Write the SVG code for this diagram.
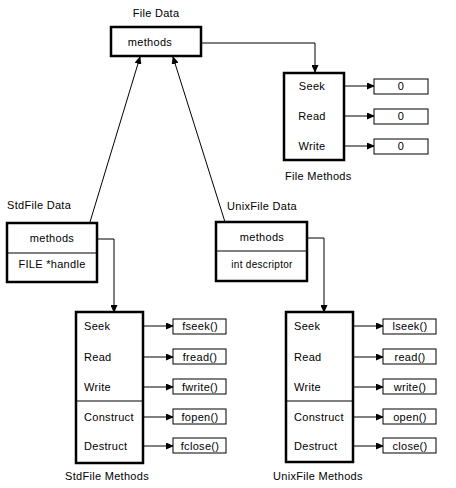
<svg xmlns="http://www.w3.org/2000/svg" width="456" height="488" viewBox="0 0 456 488">
<style>
text{font-family:"Liberation Sans",Arial,sans-serif;font-size:11px;fill:#000;letter-spacing:0.3px}
.c{text-anchor:middle}
.big{fill:#fff;stroke:#000;stroke-width:2.5}
.sm{fill:#fff;stroke:#000;stroke-width:1}
.div{stroke:#000;stroke-width:1}
.con{fill:none;stroke:#000;stroke-width:1;marker-end:url(#ah)}
</style>
<defs>
<marker id="ah" markerUnits="userSpaceOnUse" markerWidth="8" markerHeight="7" refX="7" refY="3.5" orient="auto">
<path d="M0,0 L8,3.5 L0,7 Z" fill="#000"/>
</marker>
</defs>
<rect width="456" height="488" fill="#fff"/>

<g id="connectors">
<path class="con" d="M186,43 H315 V72"/>
<path class="con" d="M337,86 H374"/>
<path class="con" d="M337,116 H374"/>
<path class="con" d="M337,146 H374"/>
<path class="con" d="M90,222 L140,57"/>
<path class="con" d="M225,222 L173,57"/>
<path class="con" d="M82,239 H114 V312"/>
<path class="con" d="M291,238 H324 V312"/>
<path class="con" d="M133,326 H173"/>
<path class="con" d="M133,357 H173"/>
<path class="con" d="M135,387 H173"/>
<path class="con" d="M141,417 H173"/>
<path class="con" d="M136,446 H173"/>
<path class="con" d="M347,326 H383"/>
<path class="con" d="M347,357 H383"/>
<path class="con" d="M347,387 H383"/>
<path class="con" d="M348,417 H383"/>
<path class="con" d="M347,446 H383"/>
</g>

<g id="file-data">
<text class="c" x="156" y="17">File  Data</text>
<rect class="big" x="111" y="27" width="90" height="29"/>
<text class="c" x="150" y="46">methods</text>
</g>

<g id="file-methods">
<rect class="big" x="284" y="73" width="60" height="87"/>
<text class="c" x="312" y="90">Seek</text>
<text class="c" x="312" y="120">Read</text>
<text class="c" x="312" y="150">Write</text>
<text x="285" y="180">File  Methods</text>
</g>
<g id="file-seek-val"><rect class="sm" x="374" y="79" width="54" height="15"/><text class="c" x="401" y="90">0</text></g>
<g id="file-read-val"><rect class="sm" x="374" y="109" width="54" height="15"/><text class="c" x="401" y="120">0</text></g>
<g id="file-write-val"><rect class="sm" x="374" y="139" width="54" height="15"/><text class="c" x="401" y="150">0</text></g>

<g id="stdfile-data">
<text x="7" y="209">StdFile  Data</text>
<rect class="big" x="7" y="223" width="90" height="59"/>
<line class="div" x1="7" y1="253" x2="97" y2="253"/>
<text class="c" x="52" y="242">methods</text>
<text class="c" x="52" y="268">FILE *handle</text>
</g>

<g id="unixfile-data">
<text x="227" y="210">UnixFile  Data</text>
<rect class="big" x="216" y="222" width="91" height="59"/>
<line class="div" x1="216" y1="251" x2="307" y2="251"/>
<text class="c" x="262" y="241">methods</text>
<text class="c" x="262" y="268" style="font-size:10px">int descriptor</text>
</g>

<g id="stdfile-methods">
<rect class="big" x="76" y="312" width="67" height="151"/>
<line class="div" x1="76" y1="401" x2="143" y2="401"/>
<text x="84" y="330">Seek</text>
<text x="84" y="361">Read</text>
<text x="84" y="391">Write</text>
<text x="84" y="421">Construct</text>
<text x="84" y="450">Destruct</text>
<text x="65" y="480">StdFile  Methods</text>
</g>
<g id="fseek"><rect class="sm" x="173" y="319" width="53" height="15"/><text class="c" x="200" y="330">fseek()</text></g>
<g id="fread"><rect class="sm" x="173" y="349" width="53" height="15"/><text class="c" x="200" y="361">fread()</text></g>
<g id="fwrite"><rect class="sm" x="173" y="379" width="53" height="15"/><text class="c" x="200" y="391">fwrite()</text></g>
<g id="fopen"><rect class="sm" x="173" y="409" width="53" height="15"/><text class="c" x="200" y="421">fopen()</text></g>
<g id="fclose"><rect class="sm" x="173" y="438" width="53" height="15"/><text class="c" x="200" y="450">fclose()</text></g>

<g id="unixfile-methods">
<rect class="big" x="286" y="312" width="67" height="150"/>
<line class="div" x1="286" y1="401" x2="353" y2="401"/>
<text x="294" y="330">Seek</text>
<text x="294" y="361">Read</text>
<text x="294" y="391">Write</text>
<text x="294" y="421">Construct</text>
<text x="294" y="450">Destruct</text>
<text x="273" y="480">UnixFile  Methods</text>
</g>
<g id="lseek"><rect class="sm" x="383" y="319" width="53" height="15"/><text class="c" x="410" y="330">lseek()</text></g>
<g id="read"><rect class="sm" x="383" y="349" width="53" height="15"/><text class="c" x="410" y="361">read()</text></g>
<g id="write"><rect class="sm" x="383" y="379" width="53" height="15"/><text class="c" x="410" y="391">write()</text></g>
<g id="open"><rect class="sm" x="383" y="409" width="53" height="15"/><text class="c" x="410" y="421">open()</text></g>
<g id="close"><rect class="sm" x="383" y="438" width="53" height="15"/><text class="c" x="410" y="450">close()</text></g>
</svg>
